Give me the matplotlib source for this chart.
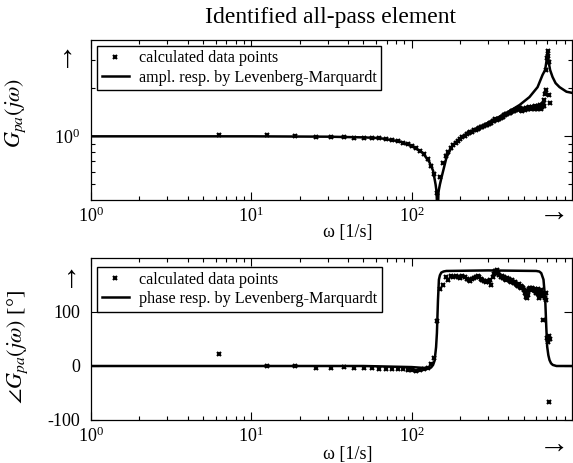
import numpy as np
import matplotlib
matplotlib.use("Agg")
import matplotlib.pyplot as plt
from matplotlib.ticker import LogFormatterMathtext, NullFormatter, LogLocator, FixedLocator

plt.rcParams['font.family'] = ['Liberation Serif', 'DejaVu Serif']
plt.rcParams['mathtext.fontset'] = 'stix'
plt.rcParams['axes.unicode_minus'] = False

# measured frequency bins (Hz) -> omega = 2*pi*f
freq_hz = np.arange(1, 117)
omega = 2 * np.pi * freq_hz

# calculated data points: amplitude
amp_data = [
    1.02, 1.02, 1.00, 0.99, 0.99, 0.99, 0.98, 0.98, 0.97, 0.97,
    0.96, 0.95, 0.93, 0.91, 0.89, 0.87, 0.84, 0.81, 0.77, 0.72,
    0.65, 0.58, 0.44, 0.56, 0.68, 0.75, 0.80, 0.85, 0.88, 0.91,
    0.93, 0.96, 0.99, 1.01, 1.03, 1.05, 1.06, 1.07, 1.09, 1.10,
    1.11, 1.13, 1.14, 1.15, 1.16, 1.17, 1.18, 1.20, 1.21, 1.22,
    1.24, 1.25, 1.28, 1.27, 1.28, 1.29, 1.31, 1.32, 1.33, 1.35,
    1.36, 1.37, 1.38, 1.39, 1.40, 1.42, 1.43, 1.44, 1.45, 1.46,
    1.47, 1.48, 1.49, 1.50, 1.51, 1.46, 1.47, 1.45, 1.48, 1.49,
    1.47, 1.50, 1.48, 1.51, 1.49, 1.52, 1.50, 1.48, 1.51, 1.53,
    1.50, 1.52, 1.49, 1.54, 1.51, 1.48, 1.55, 1.52, 1.50, 1.56,
    1.53, 1.49, 1.57, 1.52, 1.60, 1.55, 1.68, 1.85, 1.95, 2.60,
    3.10, 3.40, 3.20, 2.90, 1.80, 1.62,
]

# calculated data points: phase (deg)
phase_data = [
    23, 0, 0, -3, -3, -2, -3, -4, -4, -5,
    -5, -5, -6, -6, -8, -7, -9, -8, -6, -3,
    3, 15, 83, 143, 150, 165, 160, 166, 164, 167,
    165, 163, 166, 164, 162, 160, 158, 161, 163, 165,
    167, 164, 162, 159, 157, 156, 158, 155, 160, 150,
    164, 170, 176, 178, 172, 168, 165, 167, 163, 165,
    162, 160, 163, 161, 158, 156, 159, 155, 153, 156,
    152, 150, 148, 151, 147, 145, 148, 146, 144, 140,
    135, 128, 126, 132, 138, 142, 144, 141, 143, 145,
    142, 140, 143, 138, 135, 140, 142, 133, 126, 130,
    138, 141, 136, 131, 85, 134, 130, 126, 135, 122,
    52, 48, 44, -66, 55, 50,
]

# Levenberg-Marquardt fitted responses
fit_amp_w = [1, 10, 30, 50, 63, 84, 101, 117, 129, 136, 141, 143, 145, 147,
             150, 154, 165, 180, 200, 220, 265, 320, 391, 471, 543, 610,
             655, 680, 693, 703, 714, 730, 756, 790, 836, 924, 1000]
fit_amp = [1.0, 1.0, 0.995, 0.985, 0.975, 0.93, 0.865, 0.79, 0.69, 0.61,
           0.5, 0.45, 0.3, 0.45, 0.5, 0.56, 0.74, 0.88, 0.97, 1.04, 1.14,
           1.26, 1.40, 1.57, 1.76, 2.03, 2.42, 2.6, 2.95, 3.45, 2.95, 2.6,
           2.35, 2.15, 2.03, 1.90, 1.87]

fit_ph_w = [1, 50, 100, 125, 132, 136, 139, 142, 143.7, 145.9, 147.9, 150,
            153, 158, 164.5, 300, 598, 625, 643, 664, 681, 691, 700, 712,
            724, 740, 759, 800, 1000]
fit_ph = [0, 0, -2, -4, -3, 2, 10, 35, 61, 122, 160, 168, 173, 175, 176,
          177, 176, 175, 172, 160, 122, 73, 36, 20, 11, 5, 2, 0, 0]

fig = plt.figure(figsize=(5.73, 4.63), dpi=100)
ax1 = fig.add_axes([91/573, 1-200/463, 481/573, 160/463])
ax2 = fig.add_axes([91/573, 1-420/463, 481/573, 162/463])

mk = dict(marker='x', ms=3.3, mew=1.5, color='black', ls='none')

ax1.plot(fit_amp_w, fit_amp, color='black', lw=1.8,
         label='ampl. resp. by Levenberg-Marquardt', zorder=2)
ax1.plot(omega, amp_data, label='calculated data points', zorder=3, **mk)
ax1.set_xscale('log')
ax1.set_yscale('log')
ax1.set_xlim(1, 1000)
ax1.set_ylim(0.4, 4)
ax1.yaxis.set_major_locator(FixedLocator([1]))
ax1.yaxis.set_minor_locator(FixedLocator([0.5, 0.6, 0.7, 0.8, 0.9, 2, 3]))
ax1.yaxis.set_major_formatter(LogFormatterMathtext())
ax1.yaxis.set_minor_formatter(NullFormatter())

ax2.plot(fit_ph_w, fit_ph, color='black', lw=1.8,
         label='phase resp. by Levenberg-Marquardt', zorder=2)
ax2.plot(omega, phase_data, label='calculated data points', zorder=3, **mk)
ax2.set_xscale('log')
ax2.set_xlim(1, 1000)
ax2.set_ylim(-100, 200)
ax2.set_yticks([-100, 0, 100])

for ax in (ax1, ax2):
    ax.xaxis.set_major_locator(FixedLocator([1, 10, 100]))
    ax.xaxis.set_minor_locator(LogLocator(base=10, subs=np.arange(2, 10), numticks=10))
    ax.xaxis.set_major_formatter(LogFormatterMathtext())
    ax.xaxis.set_minor_formatter(NullFormatter())
    ax.tick_params(which='both', direction='in', top=True, right=True,
                   labelsize=13, width=0.8)
    ax.tick_params(which='major', length=6, pad=5)
    ax.tick_params(axis='y', which='major', pad=8)
    ax.tick_params(which='minor', length=3)
    for s in ax.spines.values():
        s.set_linewidth(0.9)
    h, l = ax.get_legend_handles_labels()
    ax.legend(h[::-1], l[::-1], loc='upper left', fontsize=11.6,
              frameon=True, fancybox=False, edgecolor='black',
              framealpha=1, handlelength=1.7, handletextpad=0.6,
              borderaxespad=0,
              bbox_to_anchor=(0.012, 0.965 if ax is ax1 else 0.945),
              borderpad=0.3, labelspacing=0.2)

fig.text(330/573, 1-18/463, 'Identified all-pass element', ha='center',
         va='center', fontsize=17)

fig.text(68/573, 1-60/463, '\u2191', ha='center', va='center', fontsize=22)
fig.text(72/573, 1-280/463, '\u2191', ha='center', va='center', fontsize=22)
fig.text(554/573, 1-214/463, '\u2192', ha='center', va='center', fontsize=22)
fig.text(554/573, 1-446/463, '\u2192', ha='center', va='center', fontsize=22)

fig.text(348/573, 1-233/463, '\u03c9 [1/s]', ha='center', va='center', fontsize=13)
fig.text(348/573, 1-454/463, '\u03c9 [1/s]', ha='center', va='center', fontsize=13)

fig.text(16/573, 1-113/463, r'$G_{pa}(j\omega)$', ha='center', va='center',
         rotation=90, fontsize=16)
fig.text(18/573, 1-347/463, r'$\angle G_{pa}(j\omega)$ [°]', ha='center', va='center',
         rotation=90, fontsize=16)

fig.savefig('out.png', dpi=100)
